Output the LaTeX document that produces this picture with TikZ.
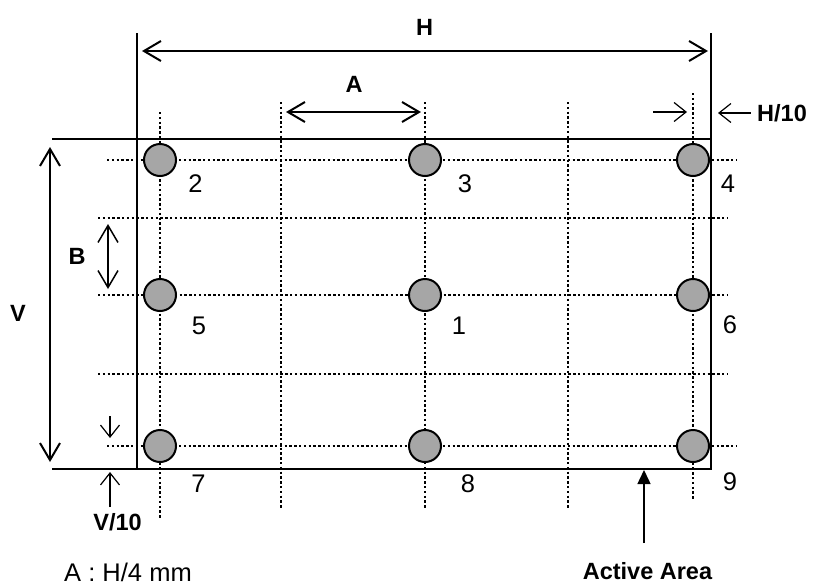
\documentclass[tikz,border=0pt]{standalone}
\usepackage{fontspec}
\setmainfont{Liberation Sans}
\usetikzlibrary{arrows.meta}

\definecolor{ccgris}{RGB}{166,166,166}

\begin{document}
\begin{tikzpicture}[x=1pt, y=-1pt,
  cadre/.style={line width=2.2pt},
  grille/.style={line width=2pt, dash pattern=on 2.4pt off 2.4pt},
  pastille/.style={line width=2pt, fill=ccgris},
  cote/.style={line width=2pt, {Straight Barb[length=17pt,width=20pt]}-{Straight Barb[length=17pt,width=20pt]}},
  petite/.style={line width=1.2pt, -{Straight Barb[length=12pt,width=19pt]}},
  fleche/.style={line width=1.5pt, -{Triangle[length=14pt,width=13pt]}},
  chiffre/.style={inner sep=0pt, font=\fontsize{25.5}{30}\selectfont},
  titre/.style={inner sep=0pt, font=\fontsize{23.5}{28}\selectfont\bfseries}]

  \useasboundingbox (0,0) rectangle (814,587);

  % Grid
  \draw[grille] (160,112) -- (160,518);
  \draw[grille] (281,102) -- (281,509);
  \draw[grille] (425,102) -- (425,509);
  \draw[grille] (568,102) -- (568,509);
  \draw[grille] (693,93) -- (693,500);
  \draw[grille] (107,160) -- (737,160);
  \draw[grille] (98,218) -- (728,218);
  \draw[grille] (98,295) -- (728,295);
  \draw[grille] (98,374) -- (728,374);
  \draw[grille] (107,446) -- (737,446);

  % Measuring points
  \draw[pastille] (160,160) circle [radius=16];
  \draw[pastille] (425,160) circle [radius=16];
  \draw[pastille] (693,160) circle [radius=16];
  \draw[pastille] (160,295) circle [radius=16];
  \draw[pastille] (425,295) circle [radius=16];
  \draw[pastille] (693,295) circle [radius=16];
  \draw[pastille] (160,446) circle [radius=16];
  \draw[pastille] (425,446) circle [radius=16];
  \draw[pastille] (693,446) circle [radius=16];

  % Active area and extension lines
  \draw[cadre] (137,33) -- (137,469) -- (711,469) -- (711,33);
  \draw[cadre] (52,139) -- (711,139);
  \draw[cadre] (52,469) -- (137,469);

  % Dimensions
  \draw[cote] (142,51) -- (708,51);
  \draw[cote] (50,147) -- (50,462);
  \draw[cote] (286,112) -- (421,112);
  \draw[cote, line width=1.5pt] (108,224) -- (108,289);
  \draw[petite] (653,112) -- (687,112);
  \draw[petite] (110,416) -- (110,438);
  \draw[petite] (110,507) -- (110,472);

  % Labels
  \draw(424.5,27) node[titre] (cotH) {H};
  \draw(354,84) node[titre] (cotA) {A};
  \draw(782,113) node[titre] (cotH10) {H/10};
  \draw(77,256) node[titre] (cotB) {B};
  \draw(18,313) node[titre] (cotV) {V};
  \draw(117.5,522) node[titre] (cotV10) {V/10};
  \coordinate (bordD) at (718,113);
  \draw[petite] ([xshift=-6pt]cotH10.west) -- (bordD);

  \draw(195.5,184) node[chiffre] (n2) {2};
  \draw(465,184) node[chiffre] (n3) {3};
  \draw(728,184) node[chiffre] (n4) {4};
  \draw(199,326) node[chiffre] (n5) {5};
  \draw(459,326) node[chiffre] (n1) {1};
  \draw(730,325) node[chiffre] (n6) {6};
  \draw(198.5,484) node[chiffre] (n7) {7};
  \draw(468,484) node[chiffre] (n8) {8};
  \draw(730,482) node[chiffre] (n9) {9};

  % Legend
  \draw(128,572) node[chiffre] (legA) {A : H/4 mm};
  \draw(647.5,571) node[titre] (actif) {Active Area};
  \coordinate (queue) at (644,543);
  \coordinate (bas) at (644,470);
  \draw[fleche] (queue) -- (bas);

\end{tikzpicture}
\end{document}
